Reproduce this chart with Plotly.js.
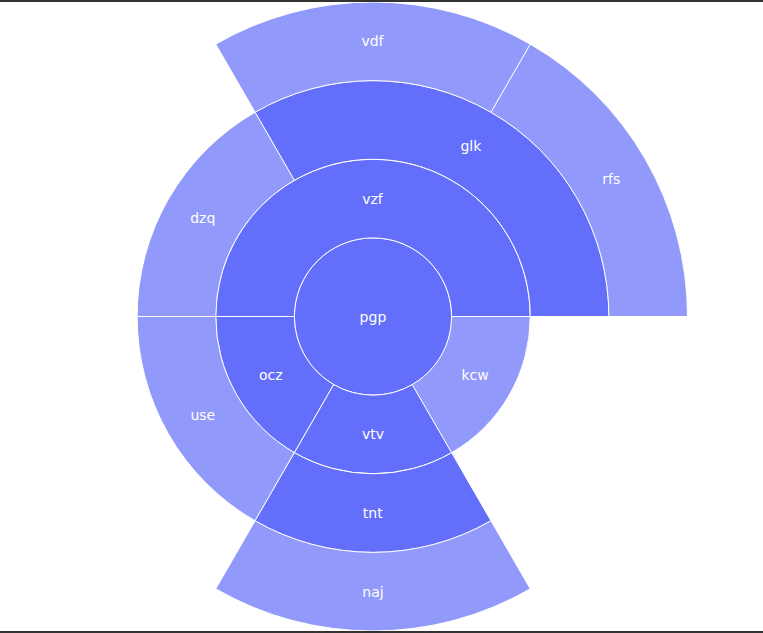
<!DOCTYPE html>
<html>
<head>
<meta charset="utf-8">
<script src="https://cdn.plot.ly/plotly-3.0.1.min.js"></script>
<style>
  html, body { margin: 0; padding: 0; background: #333333; width: 763px; height: 633px; overflow: hidden; }
  #chart { position: absolute; left: 0; top: 2px; width: 763px; height: 629px; background: #ffffff; }
</style>
</head>
<body>
<div id="chart"></div>
<script>
const ids     = ["pgp", "vzf", "ocz", "vtv", "kcw", "glk", "dzq", "use", "tnt", "rfs", "vdf", "naj"];
const labels  = ["pgp", "vzf", "ocz", "vtv", "kcw", "glk", "dzq", "use", "tnt", "rfs", "vdf", "naj"];
const parents = ["",    "pgp", "pgp", "pgp", "pgp", "vzf", "vzf", "ocz", "vtv", "glk", "glk", "tnt"];
const values  = [60,    30,    10,    10,    10,    20,    10,    10,    10,    10,    10,    10];

const trace = {
  type: "sunburst",
  ids: ids,
  labels: labels,
  parents: parents,
  values: values,
  branchvalues: "total",
  marker: { colors: ids.map(() => "#636efa"), line: { color: "#ffffff", width: 1 } },
  textfont: { color: "#ffffff", family: "DejaVu Sans, Verdana, sans-serif", size: 14 },
  insidetextfont: { color: "#ffffff", family: "DejaVu Sans, Verdana, sans-serif", size: 14 }
};

const layout = {
  width: 763,
  height: 629,
  margin: { l: 0, r: 17, t: 0, b: 0 },
  paper_bgcolor: "#ffffff",
  font: { family: "DejaVu Sans, Verdana, sans-serif", size: 14, color: "#ffffff" },
  showlegend: false
};

Plotly.newPlot("chart", [trace], layout, { displayModeBar: false });
</script>
</body>
</html>
